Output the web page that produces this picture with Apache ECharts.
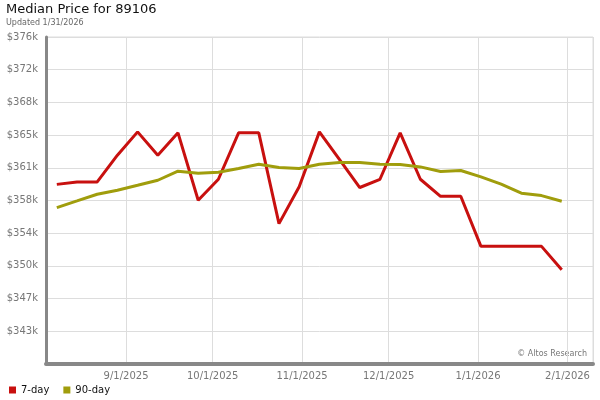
<!DOCTYPE html>
<html>
<head>
<meta charset="utf-8">
<script src="https://cdn.jsdelivr.net/npm/echarts@6/dist/echarts.min.js"></script>
<style>html,body{margin:0;padding:0;background:#fff}#c{width:600px;height:400px}</style>
</head>
<body>
<div id="c"></div>
<script>
var dates = ['2025-08-08','2025-08-15','2025-08-22','2025-08-29','2025-09-05','2025-09-12','2025-09-19','2025-09-26','2025-10-03','2025-10-10','2025-10-17','2025-10-24','2025-10-31','2025-11-07','2025-11-14','2025-11-21','2025-11-28','2025-12-05','2025-12-12','2025-12-19','2025-12-26','2026-01-02','2026-01-09','2026-01-16','2026-01-23','2026-01-30'];
var sevenDay = [359500,359770,359770,362760,365360,362760,365250,357730,360070,365250,365250,355120,359240,365360,362260,359150,360070,365250,360070,358170,358170,352580,352580,352580,352580,349980];
var ninetyDay = [356910,357650,358400,358850,359400,359960,360970,360750,360860,361270,361750,361380,361270,361750,361940,361940,361750,361720,361450,360940,361050,360330,359520,358510,358250,357620];
var yTickLabels = ['', '$343k', '$347k', '$350k', '$354k', '$358k', '$361k', '$365k', '$368k', '$372k', '$376k'];

function toTime(s) { var p = s.split('-'); return new Date(+p[0], +p[1] - 1, +p[2]).getTime(); }
var Y_MIN = 339450, Y_INT = 3650, Y_MAX = Y_MIN + 10 * Y_INT;

var chart = echarts.init(document.getElementById('c'), null, {renderer: 'canvas'});
chart.setOption({
  animation: false,
  backgroundColor: '#fff',
  textStyle: {fontFamily: 'DejaVu Sans'},
  title: {
    text: 'Median Price for 89106',
    subtext: 'Updated 1/31/2026',
    left: 6, top: 3, itemGap: 3, padding: 0,
    textStyle: {fontSize: 13, fontWeight: 'normal', color: '#111', fontFamily: 'DejaVu Sans'},
    subtextStyle: {fontSize: 8, color: '#666', fontFamily: 'DejaVu Sans'}
  },
  legend: {
    left: 4, top: 380, icon: 'rect', itemWidth: 7, itemHeight: 7, itemGap: 14,
    textStyle: {fontSize: 10, color: '#111', fontFamily: 'DejaVu Sans'},
    data: ['7-day', '90-day']
  },
  grid: {left: 46, right: 7, top: 37, bottom: 36, show: true, borderColor: '#ddd', borderWidth: 1},
  xAxis: {
    type: 'time',
    min: new Date(2025, 7, 4, 6).getTime(),
    max: new Date(2026, 1, 9, 20).getTime(),
    minInterval: 28 * 86400000,
    maxInterval: 31 * 86400000,
    axisLine: {show: true, lineStyle: {color: '#888', width: 4}},
    axisTick: {show: false},
    splitLine: {show: true, lineStyle: {color: '#ddd', width: 1}},
    axisLabel: {
      color: '#777', fontSize: 10, margin: 7, fontFamily: 'DejaVu Sans',
      formatter: function (v) { var d = new Date(v); return (d.getMonth() + 1) + '/' + d.getDate() + '/' + d.getFullYear(); },
      showMinLabel: false, showMaxLabel: false
    }
  },
  yAxis: {
    type: 'value', min: Y_MIN, max: Y_MAX, interval: Y_INT,
    axisLine: {show: true, lineStyle: {color: '#888', width: 3}},
    axisTick: {show: false},
    splitLine: {show: true, lineStyle: {color: '#ddd', width: 1}},
    axisLabel: {
      color: '#777', fontSize: 10, margin: 8, fontFamily: 'DejaVu Sans',
      formatter: function (v) { return yTickLabels[Math.round((v - Y_MIN) / Y_INT)] || ''; }
    }
  },
  graphic: [{
    type: 'text', right: 13, top: 350,
    style: {text: '\u00a9 Altos Research', fill: '#777', fontSize: 8, fontFamily: 'DejaVu Sans'}
  }],
  series: [
    {name: '7-day', type: 'line', showSymbol: false, symbol: 'none', color: '#c8100f',
     lineStyle: {width: 3, color: '#c8100f'},
     data: dates.map(function (d, i) { return [toTime(d), sevenDay[i]]; })},
    {name: '90-day', type: 'line', showSymbol: false, symbol: 'none', color: '#a09d0c',
     lineStyle: {width: 3, color: '#a09d0c'},
     data: dates.map(function (d, i) { return [toTime(d), ninetyDay[i]]; })}
  ]
});
</script>
</body>
</html>
